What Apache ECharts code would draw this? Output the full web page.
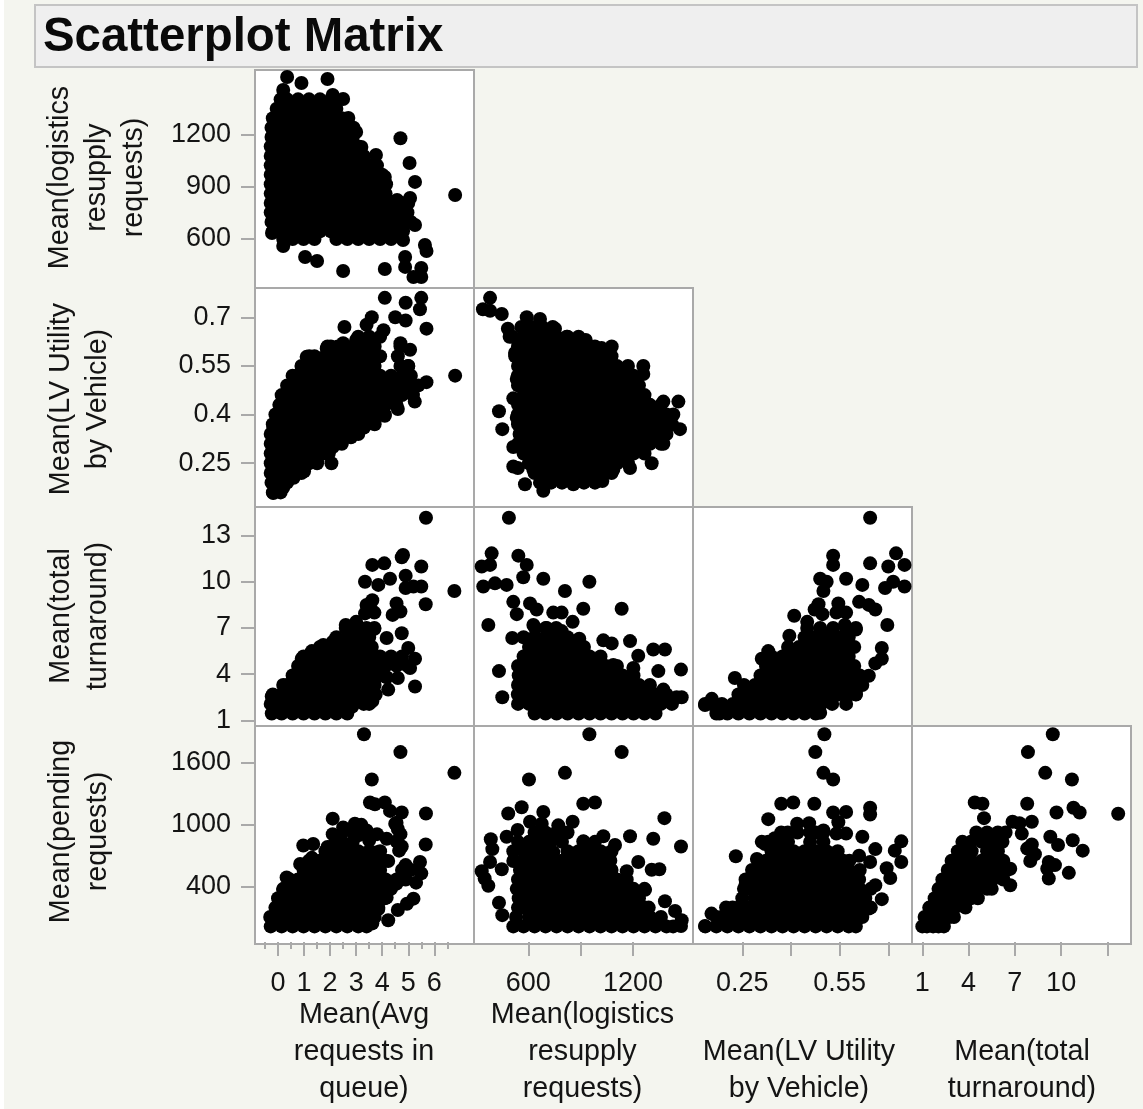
<!DOCTYPE html>
<html><head><meta charset="utf-8">
<style>html,body{margin:0;padding:0;background:#f4f5ef}#c{width:1143px;height:1109px}</style>
<script src="https://cdn.jsdelivr.net/npm/echarts@6/dist/echarts.min.js"></script>
</head><body><div id="c"></div>
<script>
// Each row: first number is the y value, the rest are x values read at that y.
const logisticsVsQueue = [
[1528,.35],[1494,.9],[1517,1.9],[1454,.2],[1425,2.1],[1402,2.5],[1293,2.7],[1213,3],[1127,3.2],[1081,3.76],[955,4.1],[1177,4.7],[1035,5.05],[927,5.26],[852,6.8],[835,5.07],[824,4.57],[806,4.2],[680,5.26],[594,4.8],[566,5.64],[531,5.7],[497,4.88],[440,4.88],[428,4.1],[434,5.5],[382,5.2],[382,5.5],[417,2.5],[497,1.04],[474,1.5],[560,.2],[634,-.23],
[1400,.1,.35,.77,1.19,1.61,2.03],
[1346,-.05,.14,.56,.98,1.4,1.82,2.24],
[1292,-.2,-.07,.35,.77,1.19,1.61,2.03,2.45],
[1238,-.25,.14,.56,.98,1.4,1.82,2.24,2.66,2.9],
[1184,-.25,-.07,.35,.77,1.19,1.61,2.03,2.45,2.87],
[1130,-.28,.14,.56,.98,1.4,1.82,2.24,2.66,3.08],
[1076,-.28,-.07,.35,.77,1.19,1.61,2.03,2.45,2.87,3.29],
[1022,-.28,.14,.56,.98,1.4,1.82,2.24,2.66,3.08,3.5,3.8],
[968,-.28,-.07,.35,.77,1.19,1.61,2.03,2.45,2.87,3.29,3.71,4],
[914,-.28,.14,.56,.98,1.4,1.82,2.24,2.66,3.08,3.5,3.92,4.15],
[860,-.28,-.07,.35,.77,1.19,1.61,2.03,2.45,2.87,3.29,3.71,4.13],
[806,-.28,.14,.56,.98,1.4,1.82,2.24,2.66,3.08,3.5,3.92,4.34,4.76,5],
[752,-.28,-.07,.35,.77,1.19,1.61,2.03,2.45,2.87,3.29,3.71,4.13,4.55,4.97],
[698,-.25,.14,.56,.98,1.4,1.82,2.24,2.66,3.08,3.5,3.92,4.34,4.76,5.1],
[644,-.2,-.07,.35,.77,1.19,1.61,2.03,2.45,2.87,3.29,3.71,4.13,4.55,4.8],
[600,.2,.56,.98,1.4,2.24,2.66,3.08,3.5,3.92,4.34]
];
const utilityVsQueue = [
[.158,-.18],[.359,-.18],[.45,.2],[.522,.78],[.578,1.1],[.604,1.87],[.62,2.5],[.63,3],[.677,3.4],[.7,3.6],[.76,4.1],[.67,2.55],[.61,2.3],[.745,4.9],[.76,5.5],[.725,5.45],[.7,4.5],[.69,4.9],[.66,4.05],[.665,5.7],[.62,4.7],[.6,5.07],[.55,5],[.5,5.7],[.52,6.8],[.44,5.25],[.417,4.6],[.396,4.1],[.36,3.3],[.33,2.8],[.25,2.05],[.3,2.1],[.255,1.5],[.225,1],[.205,.6],[.175,.2],
[.16,-.2,.1],
[.19,-.25,-.07,.35],
[.22,-.28,.14,.56,.9],
[.25,-.28,-.07,.35,.77,1.19,1.5],
[.28,-.28,.14,.56,.98,1.4,1.82,1.95],
[.31,-.28,-.07,.35,.77,1.19,1.61,2.03,2.45],
[.34,-.28,.14,.56,.98,1.4,1.82,2.24,2.66,3.08],
[.37,-.2,-.07,.35,.77,1.19,1.61,2.03,2.45,2.87,3.29,3.71],
[.4,-.1,.14,.56,.98,1.4,1.82,2.24,2.66,3.08,3.5,3.92,4.1],
[.43,.05,.35,.77,1.19,1.61,2.03,2.45,2.87,3.29,3.71,4.13,4.55],
[.46,.14,.56,.98,1.4,1.82,2.24,2.66,3.08,3.5,3.92,4.34,4.76,5.18],
[.49,.35,.77,1.19,1.61,2.03,2.45,2.87,3.29,3.71,4.13,4.55,4.97,5.39],
[.52,.56,.98,1.4,1.82,2.24,2.66,3.08,3.5,3.92,4.34,4.76,5.1],
[.55,.9,1.19,1.61,2.03,2.45,2.87,3.29,3.71,4.7,5],
[.58,1.2,1.4,1.82,2.24,2.66,3.08,3.5,3.92,4.6],
[.61,1.9,2.03,2.45,2.87,3.29,3.71,4.7],
[.64,3.08,3.5,3.92]
];
const utilityVsLogistics = [
[.76,381],[.725,340],[.72,381],[.71,448],[.665,483],[.64,493],[.7,591],[.695,667],[.665,753],[.64,820],[.63,929],[.605,1020],[.61,1078],[.55,1259],[.525,1259],[.54,1125],[.55,1030],[.44,1374],[.44,1460],[.4,1431],[.355,1469],[.31,1374],[.25,1307],[.235,1183],[.23,1087],[.195,1024],[.185,858],[.165,686],[.185,581],[.23,629],[.24,514],[.235,540],[.3,514],[.355,451],[.41,432],[.39,534],[.45,514],[.51,534],[.59,524],
[.19,667,730,793,856,919,982],
[.22,636,699,762,825,888,951,1014,1077],
[.25,604,667,730,793,856,919,982,1045,1108,1171],
[.28,573,636,699,762,825,888,951,1014,1077,1140,1203,1266],
[.31,541,604,667,730,793,856,919,982,1045,1108,1171,1234,1297,1360],
[.34,550,573,636,699,762,825,888,951,1014,1077,1140,1203,1266,1329,1392],
[.37,541,604,667,730,793,856,919,982,1045,1108,1171,1234,1297,1360,1423],
[.4,540,573,636,699,762,825,888,951,1014,1077,1140,1203,1266,1329,1392],
[.43,541,604,667,730,793,856,919,982,1045,1108,1171,1234,1297,1360],
[.46,573,636,699,762,825,888,951,1014,1077,1140,1203,1266],
[.49,541,604,667,730,793,856,919,982,1045,1108,1171,1234],
[.52,540,573,636,699,762,825,888,951,1014,1077,1140,1203],
[.55,541,604,667,730,793,856,919,982,1045,1108,1171],
[.58,525,573,636,699,762,825,888,951,1014,1077],
[.61,541,604,667,730,793,856,919,982],
[.64,510,573,636,699,762,825,888],
[.67,560,620,680,740]
];
const turnaroundVsQueue = [
[14.16,5.68],[9.4,6.77],[11.74,4.8],[11.6,4.75],[11,5.5],[11.2,4.08],[11.1,3.62],[10,3.34],[9.8,3.85],[10.2,4.3],[10.4,4.9],[9.6,4.9],[9.7,5.2],[9.7,5.5],[8.54,5.67],[8.8,3.62],[8.5,3.4],[8,3.7],[7.95,3.34],[8.6,4.55],[8.07,4.7],[7.85,4.4],[7.2,2.6],[7.4,3],[6.95,3.7],[6.66,4.75],[6.35,4.17],[6.4,3.34],[5.7,5],[5,5.26],[4.4,5.07],[3.2,5.26],[3.75,4.6],[3.8,4.17],[3,4.23],[2.25,3.62],[1.9,2.85],[5,.91],[5.5,1.3],[5.9,1.74],[6.1,2.1],[3.75,.7],[3.1,.27],[2.55,-.24],
[1.45,-.24,.14,.56,.98,1.4,1.82,2.24,2.66],
[2.07,-.28,-.07,.35,.77,1.19,1.61,2.03,2.45,2.87,3.29,3.5],
[2.68,-.2,.14,.56,.98,1.4,1.82,2.24,2.66,3.08,3.5,3.75],
[3.3,.2,.35,.77,1.19,1.61,2.03,2.45,2.87,3.29,3.71],
[3.92,.56,.98,1.4,1.82,2.24,2.66,3.08,3.5,3.92],
[4.54,.77,1.19,1.61,2.03,2.45,2.87,3.29,3.71,4.13,4.55,4.97],
[5.15,.98,1.4,1.82,2.24,2.66,3.08,3.5,3.92,4.34,4.76],
[5.77,1.61,2.03,2.45,2.87,3.29,3.6],
[6.4,2.24,2.66,3.08,3.5],
[7,2.6,3,3.4,3.7]
];
const turnaroundVsLogistics = [
[14.16,489],[11.85,390],[11.1,381],[11,333],[11.7,543],[11.1,591],[10.3,571],[10.2,686],[9.4,810],[10,950],[8.25,1135],[8.25,915],[9.7,342],[9.9,409],[9.8,476],[7.2,371],[8.7,514],[8.6,610],[7.9,534],[8.2,648],[8,743],[8,791],[7.4,854],[7.2,629],[7,705],[6.8,791],[6.35,508],[6.3,892],[6.2,1030],[6,1078],[6.15,1183],[5.2,1230],[5.6,1316],[5.6,1383],[4.3,1475],[4.2,1345],[4.2,432],[2.5,451],[2.5,1479],[2.5,1450],[3,1374],[4.4,1202],[4.6,1087],
[1.45,636,699,762,825,888,951,1014,1077,1140,1203,1266,1329],
[2.07,541,604,667,730,793,856,919,982,1045,1108,1171,1234,1297,1360,1423],
[2.68,540,573,636,699,762,825,888,951,1014,1077,1140,1203,1266,1329,1392],
[3.3,541,604,667,730,793,856,919,982,1045,1108,1171,1234,1297],
[3.92,545,573,636,699,762,825,888,951,1014,1077,1140,1203],
[4.54,541,604,667,730,793,856,919,982,1045,1108],
[5.15,573,636,699,762,825,888,951,1014],
[5.77,604,667,730,793,856,919],
[6.4,573,636,699,762,825],
[7,640,700,760]
];
const turnaroundVsUtility = [
[14.16,.644],[11.7,.53],[11.1,.53],[11.2,.644],[11.85,.724],[11,.7],[11.1,.75],[10.2,.49],[10,.51],[9.4,.5],[10.2,.57],[9.8,.62],[9.6,.69],[10,.715],[9.7,.75],[8.7,.61],[8.5,.64],[8.2,.66],[8.6,.546],[8,.57],[8,.54],[8.55,.485],[8.2,.473],[7.9,.497],[7.8,.41],[7.2,.697],[7.4,.45],[7.2,.566],[6.9,.6],[6.8,.527],[6.5,.395],[5.7,.68],[5,.68],[4.7,.66],[3.9,.64],[2.7,.6],[5.5,.33],[5,.31],[3.75,.227],[2,.135],[2.4,.156],[1.45,.18],[1.5,.49],
[1.45,.17,.204,.238,.272,.306,.34,.374,.408,.442,.476],
[2.07,.135,.153,.187,.221,.255,.289,.323,.357,.391,.425,.459,.493,.527,.57],
[2.68,.238,.272,.306,.34,.374,.408,.442,.476,.51,.544,.578,.6],
[3.3,.255,.289,.323,.357,.391,.425,.459,.493,.527,.561,.595,.62],
[3.92,.306,.34,.374,.408,.442,.476,.51,.544,.578,.612],
[4.54,.323,.357,.391,.425,.459,.493,.527,.561,.595],
[5.15,.34,.374,.408,.442,.476,.51,.544,.578],
[5.77,.391,.425,.459,.493,.527,.561,.595],
[6.4,.442,.476,.51,.544,.578],
[7,.45,.49,.53,.57,.6]
];
const pendingVsQueue = [
[1878,3.3],[1705,4.7],[1439,3.6],[1504,6.77],[1110,5.68],[809,5.67],[1216,3.53],[1200,3.72],[1216,4.1],[1135,4.3],[1120,4.75],[1010,4.5],[1060,2.1],[975,2.5],[1010,2.95],[945,3.4],[910,3.8],[865,4.17],[910,4.7],[790,4.75],[910,2.1],[830,2.2],[800,.97],[815,1.35],[785,1.9],[620,.85],[680,1.3],[490,.33],[370,.2],[735,3],[735,3.8],[650,4.23],[610,4.9],[640,5.45],[530,5.5],[440,5.3],[430,4.55],[285,5.2],[235,4.95],[175,4.6],[75,4.23],[45,3.62],[295,4.17],[185,3.85],[900,3.1],[850,3.5],[870,2.4],[940,2.8],[1000,3.2],[1020,4.55],[960,4.6],[840,4.55],[750,4.65],[690,2.5],
[16,-.28,.14,.56,.98,1.4,1.82,2.24,2.66,3.08,3.4],
[107,-.3,-.07,.35,.77,1.19,1.61,2.03,2.45,2.87,3.29,3.71],
[198,-.1,.14,.56,.98,1.4,1.82,2.24,2.66,3.08,3.5,3.85],
[289,0,.35,.77,1.19,1.61,2.03,2.45,2.87,3.29,3.71,4.1],
[380,.2,.56,.98,1.4,1.82,2.24,2.66,3.08,3.5,3.92,4.34],
[471,.45,.77,1.19,1.61,2.03,2.45,2.87,3.29,3.71,4.13,4.55,4.9],
[562,.98,1.4,1.82,2.24,2.66,3.08,3.5,3.92,4.76,5.1],
[653,1.19,1.61,2.03,2.45,2.87,3.29,3.71,4.1],
[744,1.82,2.24,2.66,3.08,3.5,3.92],
[835,2.2,2.45,2.87]
];
const pendingVsLogistics = [
[1878,950],[1705,1135],[1504,810],[1439,604],[1205,915],[1216,982],[1170,562],[1110,485],[1125,686],[1030,610],[1010,677],[995,772],[1030,854],[950,539],[885,476],[860,385],[765,394],[840,915],[890,1030],[890,1183],[865,1316],[1065,1380],[790,1475],[805,1097],[735,743],[650,514],[640,381],[570,448],[550,333],[410,371],[640,1230],[550,1164],[565,1307],[570,1351],[370,1269],[245,432],[125,451],[260,1383],[165,1441],[20,1475],[75,1479],[480,350],
[16,514,573,636,699,762,825,888,951,1014,1077,1140,1203,1266,1329,1392,1430],
[107,530,604,667,730,793,856,919,982,1045,1108,1171,1234,1297,1360],
[198,541,573,636,699,762,825,888,951,1014,1077,1140,1203,1266,1290],
[289,545,604,667,730,793,856,919,982,1045,1108,1171,1234],
[380,534,573,636,699,762,825,888,951,1014,1077,1140,1203,1266],
[471,541,604,667,730,793,856,919,982,1045,1108,1164],
[562,552,573,636,699,762,825,888,951,1014,1077],
[653,570,604,667,730,793,856,919,982,1045,1070],
[744,514,573,636,699,825,888,951,1014,1077],
[835,541,604,667,730,793,919,982],
[926,636,699,762,825]
];
const pendingVsUtility = [
[1878,.503],[1705,.475],[1504,.5],[1439,.53],[1205,.37],[1216,.407],[1205,.472],[1055,.33],[1120,.53],[1125,.57],[1165,.644],[1100,.644],[1010,.419],[1015,.456],[945,.5],[1025,.546],[915,.54],[915,.57],[885,.62],[815,.32],[870,.35],[695,.23],[670,.295],[670,.347],[765,.66],[700,.61],[640,.644],[730,.51],[750,.72],[840,.74],[640,.74],[580,.695],[485,.706],[415,.66],[280,.68],[190,.64],[75,.6],[420,.26],[555,.285],[200,.2],[140,.155],[20,.135],
[16,.136,.17,.204,.238,.272,.306,.34,.374,.408,.442,.476,.51,.544,.578,.6],
[107,.17,.187,.221,.255,.289,.323,.357,.391,.425,.459,.493,.527,.561,.595,.62],
[198,.22,.238,.272,.306,.34,.374,.408,.442,.476,.51,.544,.578,.612,.646],
[289,.25,.289,.323,.357,.391,.425,.459,.493,.527,.561,.595,.629],
[380,.255,.272,.306,.34,.374,.408,.442,.476,.51,.544,.578,.612,.646],
[471,.26,.289,.323,.357,.391,.425,.459,.493,.527,.561,.595,.61],
[562,.28,.306,.34,.374,.408,.442,.476,.51,.544,.578,.612],
[653,.3,.323,.357,.391,.425,.459,.493,.527,.561,.58],
[744,.34,.374,.408,.442,.476,.51,.544],
[835,.31,.33,.357,.391,.459,.5],
[926,.37,.39,.42,.459,.476,.5]
];
const pendingVsTurnaround = [
[1878,9.46],[1705,7.85],[1504,8.97],[1439,10.7],[1108,13.7],[1216,4.4],[1205,4.9],[1205,7.8],[1120,9.7],[1165,10.8],[1120,11.2],[1065,5],[1030,6.85],[1015,7.3],[1030,8.1],[915,7.45],[885,9.3],[805,9.8],[850,10.75],[750,11.4],[810,8.1],[770,7.8],[715,8.3],[650,8],[640,9.2],[610,9.6],[575,9.1],[480,9.2],[535,10.5],[415,6.7],[575,6.7],
[16,1,1.3,1.7,2.05,2.4],
[107,1.15,1.35,2.05,2.75,3.05],
[198,1.45,1.7,2.4,3.1,3.8],
[289,1.8,2.05,2.75,3.45,4.15,4.6],
[380,2.05,2.4,3.1,3.8,4.5,5.2,5.5],
[471,2.3,2.75,3.45,4.15,4.85,5.55,6.25],
[562,2.65,3.1,3.8,4.5,5.2,5.9,6.5],
[653,2.9,3.45,4.15,4.85,5.55,6.25],
[744,3.3,3.8,4.2,5.2,5.9],
[835,3.6,4.15,4.85,5.55,6.2],
[926,4.5,5.2,5.9,6.4]
];

const xTitles = ['Mean(Avg\nrequests in\nqueue)','Mean(logistics\nresupply\nrequests)','Mean(LV Utility\nby Vehicle)','Mean(total\nturnaround)'];
const yTitles = ['Mean(logistics\nresupply\nrequests)','Mean(LV Utility\nby Vehicle)','Mean(total\nturnaround)','Mean(pending\nrequests)'];
const xTickValues = [[0,1,2,3,4,5,6],[600,900,1200],[.25,.4,.55,.7],[1,4,7,10,13]];
const xLabelValues = [[0,1,2,3,4,5,6],[600,1200],[.25,.55],[1,4,7,10]];
const xMinorValues = [-.5,.5,1.5,2.5,3.5,4.5,5.5,6.5];
const yTickValues = [[600,900,1200],[.25,.4,.55,.7],[1,4,7,10,13],[400,1000,1600]];
const xRanges = [[-.845,7.447],[311.8,1509.4],[.098,.7515],[.397,14.53]];
const yRanges = [[353.6,1551],[.118,.778],[.7,14.86],[-48,1919]];

// layout in pixels
const frameX = [255,474,693,912,1131], frameY = [70,288,507,726,944];
const innerX = [[256,472],[478,687],[693,905],[913,1131]];
const innerY = [[73,282],[292,506],[507,725],[730,935]];
const panels = [
 [0,0,logisticsVsQueue],
 [1,0,utilityVsQueue],[1,1,utilityVsLogistics],
 [2,0,turnaroundVsQueue],[2,1,turnaroundVsLogistics],[2,2,turnaroundVsUtility],
 [3,0,pendingVsQueue],[3,1,pendingVsLogistics],[3,2,pendingVsUtility],[3,3,pendingVsTurnaround]
];
const FONT = '"Liberation Sans",Arial,sans-serif';
const INK = '#141414', TICK = '#a9a9a9';
const flat = rows => rows.flatMap(r => r.slice(1).map(x => [x, r[0]]));
const fmt = v => String(v);
const NOLINE = {show:false,onZero:false};

const grid=[], xAxis=[], yAxis=[], series=[], graphic=[];
graphic.push({type:'rect',z:-2,shape:{x:0,y:0,width:4,height:1109},style:{fill:'#ffffff'},silent:true});
graphic.push({type:'rect',z:-1,shape:{x:35,y:5,width:1102,height:62},style:{fill:'#efefef',stroke:'#c4c4c4',lineWidth:2},silent:true});

panels.forEach(([r,c,rows],i)=>{
  graphic.push({type:'rect',z:-1,shape:{x:frameX[c],y:frameY[r],width:frameX[c+1]-frameX[c],height:frameY[r+1]-frameY[r]},
    style:{fill:'#fff',stroke:TICK,lineWidth:2},silent:true});
  grid.push({left:innerX[c][0],top:innerY[r][0],width:innerX[c][1]-innerX[c][0],height:innerY[r][1]-innerY[r][0],containLabel:false});
  const bottom = r===3, left = c===0;
  xAxis.push({
    type:'value',gridIndex:i,min:xRanges[c][0],max:xRanges[c][1],show:bottom,position:'bottom',offset:bottom?9:0,
    splitLine:{show:false},axisLine:NOLINE,axisTick:{show:false},
    axisLabel:{show:true,margin:28,fontFamily:FONT,fontSize:27,color:INK,customValues:xLabelValues[c],formatter:fmt,hideOverlap:false},
    name:bottom?xTitles[c]:'',nameLocation:'middle',nameGap:c<2?55:92,nameMoveOverlap:false,
    nameTextStyle:{fontFamily:FONT,fontSize:28.7,color:INK,lineHeight:37,verticalAlign:'top',align:'center'}
  });
  yAxis.push({
    type:'value',gridIndex:i,min:yRanges[r][0],max:yRanges[r][1],show:left,position:'left',offset:1,
    splitLine:{show:false},axisLine:NOLINE,axisTick:{show:false},
    axisLabel:{show:true,margin:24,fontFamily:FONT,fontSize:27,color:INK,customValues:yTickValues[r],formatter:fmt,hideOverlap:false,padding:[r===0?6:8,0,0,0]},
    name:left?yTitles[r]:'',nameLocation:'middle',nameRotate:90,nameGap:r>0?138:102,nameMoveOverlap:false,
    nameTextStyle:{fontFamily:FONT,fontSize:28.7,color:INK,lineHeight:37,align:'center',verticalAlign:'bottom'}
  });
  series.push({type:'scatter',xAxisIndex:i,yAxisIndex:i,data:flat(rows),symbol:'circle',symbolSize:14,clip:true,silent:true,animation:false,
    itemStyle:{color:'#000',opacity:1},emphasis:{disabled:true}});
});
// tick-only axes, outside the frames
const tickAxisX = (gridIndex,c,values,length)=>({type:'value',gridIndex,min:xRanges[c][0],max:xRanges[c][1],position:'bottom',offset:9,
  splitLine:{show:false},axisLine:NOLINE,axisLabel:{show:false},
  axisTick:{show:true,length,lineStyle:{color:TICK,width:2},customValues:values}});
const tickAxisY = (gridIndex,r,values)=>({type:'value',gridIndex,min:yRanges[r][0],max:yRanges[r][1],position:'left',offset:1,
  splitLine:{show:false},axisLine:NOLINE,axisLabel:{show:false},
  axisTick:{show:true,length:14,lineStyle:{color:TICK,width:2},customValues:values}});
[6,7,8,9].forEach((g,c)=>xAxis.push(tickAxisX(g,c,xTickValues[c],14)));
xAxis.push(tickAxisX(6,0,xMinorValues,7));
[0,1,3,6].forEach((g,r)=>yAxis.push(tickAxisY(g,r,yTickValues[r])));

const chart = echarts.init(document.getElementById('c'),null,{renderer:'canvas'});
chart.setOption({
  animation:false,backgroundColor:'#f4f5ef',
  title:{text:'Scatterplot Matrix',left:38,top:9,textStyle:{fontFamily:FONT,fontWeight:'bold',fontSize:47.4,color:'#0a0a0a'}},
  tooltip:{show:false},grid,xAxis,yAxis,series,graphic
});
</script></body></html>
